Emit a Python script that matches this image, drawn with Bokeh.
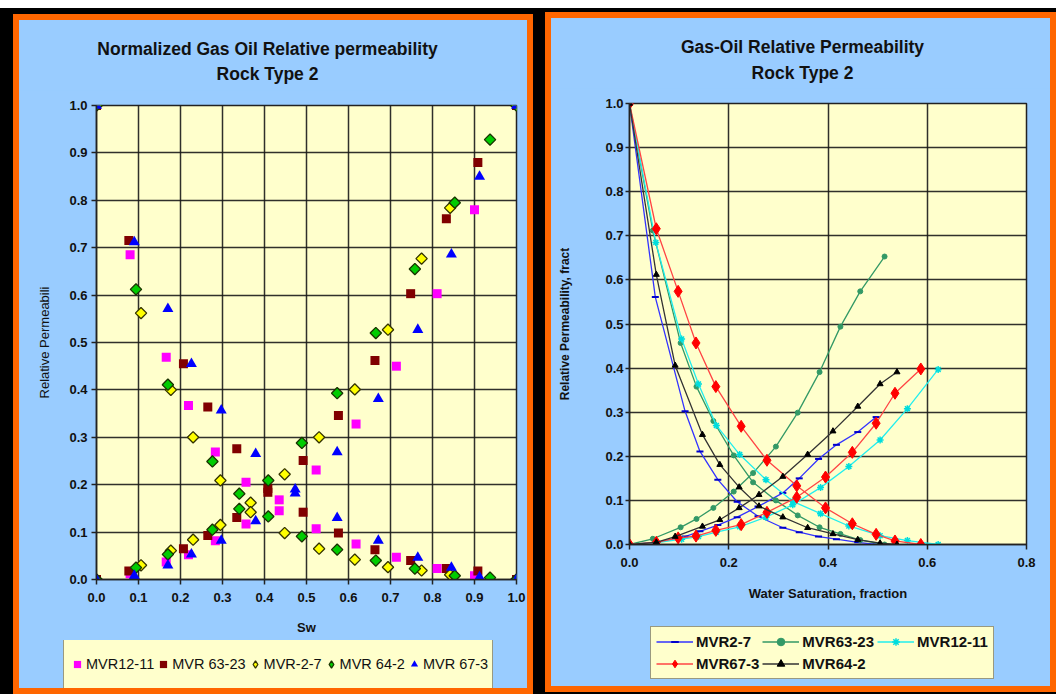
from bokeh.plotting import figure
from bokeh.models import Range1d, Legend, LegendItem, Label, FixedTicker, PrintfTickFormatter
from bokeh.layouts import row, column
from bokeh.embed import file_html
from bokeh.resources import INLINE

FONT = "Liberation Sans"
BLUE_BG = "#99CCFF"
PLOT_BG = "#FFFFCC"
ORANGE = "#FF6600"

# ---------------- Left chart data (normalized) ----------------
left_title = ["Normalized Gas Oil Relative permeability", "Rock Type 2"]
left_names = ["MVR12-11", "MVR 63-23", "MVR-2-7", "MVR 64-2", "MVR 67-3"]
sw_12_11 = [0.0, 0.080, 0.166, 0.219, 0.283, 0.356, 0.435, 0.523, 0.618, 0.714, 0.811, 0.900, 1.0]
kro_12_11 = [1.0, 0.685, 0.469, 0.367, 0.269, 0.205, 0.168, 0.107, 0.075, 0.047, 0.023, 0.008, 0.0]
krg_12_11 = [0.0, 0.012, 0.037, 0.052, 0.082, 0.117, 0.145, 0.231, 0.328, 0.450, 0.603, 0.780, 1.0]

sw_63_23 = [0.0, 0.077, 0.207, 0.265, 0.334, 0.408, 0.492, 0.576, 0.663, 0.748, 0.833, 0.908, 1.0]
kro_63_23 = [1.0, 0.715, 0.455, 0.364, 0.276, 0.184, 0.142, 0.098, 0.063, 0.040, 0.023, 0.018, 0.0]
krg_63_23 = [0.0, 0.018, 0.065, 0.093, 0.131, 0.192, 0.251, 0.346, 0.462, 0.603, 0.761, 0.880, 1.0]

sw_2_7 = [0.0, 0.106, 0.177, 0.230, 0.295, 0.367, 0.448, 0.530, 0.615, 0.694, 0.774, 0.842, 1.0]
kro_2_7 = [1.0, 0.562, 0.400, 0.300, 0.209, 0.162, 0.098, 0.065, 0.042, 0.026, 0.019, 0.010, 0.0]
krg_2_7 = [0.0, 0.030, 0.061, 0.084, 0.115, 0.142, 0.222, 0.300, 0.401, 0.527, 0.677, 0.784, 1.0]

sw_64_2 = [0.0, 0.094, 0.170, 0.276, 0.340, 0.409, 0.489, 0.573, 0.665, 0.758, 0.853, 0.937, 1.0]
kro_64_2 = [1.0, 0.612, 0.411, 0.249, 0.181, 0.133, 0.091, 0.063, 0.040, 0.023, 0.008, 0.004, 0.0]
krg_64_2 = [0.0, 0.025, 0.053, 0.105, 0.149, 0.209, 0.288, 0.393, 0.520, 0.655, 0.795, 0.928, 1.0]

sw_67_3 = [0.0, 0.090, 0.170, 0.226, 0.297, 0.379, 0.473, 0.573, 0.671, 0.765, 0.845, 0.912, 1.0]
kro_67_3 = [1.0, 0.712, 0.571, 0.455, 0.357, 0.265, 0.190, 0.130, 0.082, 0.046, 0.025, 0.005, 0.0]
krg_67_3 = [0.0, 0.008, 0.030, 0.053, 0.082, 0.123, 0.182, 0.269, 0.381, 0.527, 0.686, 0.850, 1.0]

left_ticks = [0.0, 0.1, 0.2, 0.3, 0.4, 0.5, 0.6, 0.7, 0.8, 0.9, 1.0]

# ---------------- Right chart data ----------------
right_title = ["Gas-Oil Relative Permeability", "Rock Type 2"]
right_names = ["MVR2-7", "MVR63-23", "MVR12-11", "MVR67-3", "MVR64-2"]
r_sw_2_7 = [0.0, 0.052, 0.112, 0.142, 0.178, 0.217, 0.259, 0.309, 0.342, 0.381, 0.417, 0.460, 0.497]
r_kro_2_7 = [1.0, 0.561, 0.302, 0.211, 0.147, 0.097, 0.064, 0.038, 0.028, 0.018, 0.012, 0.005, 0.0]
r_krg_2_7 = [0.0, 0.004, 0.018, 0.030, 0.044, 0.062, 0.086, 0.117, 0.150, 0.194, 0.226, 0.255, 0.289]

r_sw_63_23 = [0.0, 0.047, 0.103, 0.135, 0.169, 0.210, 0.249, 0.295, 0.339, 0.383, 0.425, 0.465, 0.514]
r_kro_63_23 = [1.0, 0.712, 0.457, 0.358, 0.280, 0.202, 0.141, 0.100, 0.066, 0.039, 0.024, 0.010, 0.0]
r_krg_63_23 = [0.0, 0.013, 0.039, 0.058, 0.083, 0.120, 0.162, 0.222, 0.299, 0.391, 0.494, 0.574, 0.653]

r_sw_12_11 = [0.0, 0.053, 0.105, 0.139, 0.175, 0.222, 0.275, 0.329, 0.385, 0.442, 0.505, 0.560, 0.622]
r_kro_12_11 = [1.0, 0.685, 0.466, 0.364, 0.270, 0.204, 0.147, 0.098, 0.070, 0.042, 0.020, 0.009, 0.0]
r_krg_12_11 = [0.0, 0.004, 0.012, 0.018, 0.028, 0.040, 0.062, 0.090, 0.129, 0.177, 0.237, 0.308, 0.397]

r_sw_67_3 = [0.0, 0.054, 0.098, 0.134, 0.174, 0.225, 0.277, 0.337, 0.395, 0.449, 0.497, 0.535, 0.587]
r_kro_67_3 = [1.0, 0.716, 0.574, 0.457, 0.358, 0.268, 0.191, 0.133, 0.083, 0.047, 0.023, 0.008, 0.0]
r_krg_67_3 = [0.0, 0.005, 0.015, 0.019, 0.032, 0.045, 0.073, 0.107, 0.153, 0.209, 0.275, 0.343, 0.398]

r_sw_64_2 = [0.0, 0.054, 0.092, 0.147, 0.182, 0.221, 0.261, 0.309, 0.359, 0.410, 0.460, 0.505, 0.539]
r_kro_64_2 = [1.0, 0.612, 0.406, 0.249, 0.181, 0.130, 0.087, 0.062, 0.038, 0.024, 0.011, 0.003, 0.0]
r_krg_64_2 = [0.0, 0.005, 0.018, 0.041, 0.056, 0.083, 0.113, 0.154, 0.204, 0.257, 0.313, 0.364, 0.391]

right_xticks = [0.0, 0.2, 0.4, 0.6, 0.8]
right_yticks = [0.0, 0.1, 0.2, 0.3, 0.4, 0.5, 0.6, 0.7, 0.8, 0.9, 1.0]


def blank_fig(w, h, xr=None, yr=None):
    f = figure(width=w, height=h,
               x_range=xr if xr is not None else Range1d(0, w),
               y_range=yr if yr is not None else Range1d(0, h),
               output_backend="svg", toolbar_location=None,
               x_axis_type=None, y_axis_type=None, frame_align=False,
               min_border=0, min_border_left=0, min_border_right=0,
               min_border_top=0, min_border_bottom=0)
    f.background_fill_color = BLUE_BG
    f.border_fill_color = BLUE_BG
    f.outline_line_color = None
    f.xgrid.visible = False
    f.ygrid.visible = False
    return f


def header(w, h, lines, xc, ys):
    f = blank_fig(w, h)
    for txt, y in zip(lines, ys):
        f.add_layout(Label(x=xc, y=y, text=txt, text_align="center", text_baseline="middle",
                           text_font=FONT, text_font_size="17.5px", text_font_style="bold",
                           text_color="#111111"))
    return f


def style(p, xticks, yticks, ylab_standoff, xlab_standoff):
    p.background_fill_color = PLOT_BG
    p.border_fill_color = BLUE_BG
    p.outline_line_color = "#222222"
    p.outline_line_width = 1.5
    for ax, ticks in ((p.xaxis, xticks), (p.yaxis, yticks)):
        ax.ticker = FixedTicker(ticks=ticks)
        ax.formatter = PrintfTickFormatter(format="%.1f")
        ax.major_label_text_font = FONT
        ax.major_label_text_font_style = "bold"
        ax.major_label_text_font_size = "13px"
        ax.major_label_text_color = "#111111"
        ax.axis_line_color = "#222222"
        ax.axis_line_width = 1.5
        ax.major_tick_line_color = "#222222"
        ax.major_tick_line_width = 1.5
        ax.major_tick_in = 0
        ax.major_tick_out = 5
        ax.minor_tick_line_color = None
        ax.axis_label_text_font = FONT
        ax.axis_label_text_color = "#111111"
        ax.axis_label_text_font_size = "13px"
    p.xaxis.major_label_standoff = 8
    p.yaxis.major_label_standoff = 4
    p.yaxis.axis_label_standoff = ylab_standoff
    p.xaxis.axis_label_standoff = xlab_standoff
    p.xgrid.ticker = FixedTicker(ticks=xticks)
    p.ygrid.ticker = FixedTicker(ticks=yticks)
    for g in (p.xgrid, p.ygrid):
        g.grid_line_color = "#1a1a1a"
        g.grid_line_width = 1.5
        g.grid_line_alpha = 0.9


# ================= LEFT PANEL =================
h1 = header(508, 70, left_title, 248, [42, 17])

p1 = figure(width=508, height=550, x_range=Range1d(0, 1), y_range=Range1d(0, 1),
            output_backend="svg", toolbar_location=None, frame_align=False,
            min_border_left=77, min_border_right=11, min_border_top=15, min_border_bottom=61)
style(p1, left_ticks, left_ticks, 14, 15)
p1.xaxis.axis_label = "Sw"
p1.xaxis.axis_label_text_font_style = "bold"
p1.yaxis.axis_label = "Relative Permeabili"
p1.yaxis.axis_label_text_font_style = "normal"

diamond_yellow = dict(fill_color="#FFFF00", line_color="#333300", line_width=1.3)
diamond_green = dict(fill_color="#00CC00", line_color="#1a3300", line_width=1.3)
left_series = [
    (sw_12_11, kro_12_11, krg_12_11, dict(marker="square", size=9, fill_color="#FF00FF", line_color=None), None),
    (sw_63_23, kro_63_23, krg_63_23, dict(marker="square", size=9, fill_color="#800000", line_color=None), None),
    (sw_2_7, kro_2_7, krg_2_7, dict(marker="square", angle=0.785398, size=8, **diamond_yellow),
     dict(marker="diamond", **diamond_yellow)),
    (sw_64_2, kro_64_2, krg_64_2, dict(marker="square", angle=0.785398, size=8, **diamond_green),
     dict(marker="diamond", **diamond_green)),
    (sw_67_3, kro_67_3, krg_67_3, dict(marker="triangle", size=11, fill_color="#0000FF", line_color=None), None),
]
# legend strip: its ranges lie outside the data, so the swatch renderers stay hidden
l1 = blank_fig(508, 48, Range1d(5, 6), Range1d(5, 6))
items1 = []
for name, (sw, kro, krg, kw, lkw) in zip(left_names, left_series):
    p1.scatter(sw, kro, **kw)
    p1.scatter(sw, krg, **kw)
    proxy = l1.scatter(sw, kro, **(lkw if lkw is not None else kw))
    items1.append(LegendItem(label=name, renderers=[proxy]))

leg1 = Legend(items=items1, orientation="horizontal", location=(44, -1),
              background_fill_color=PLOT_BG, background_fill_alpha=1.0,
              border_line_color="#333333", border_line_width=1.5,
              padding=4, spacing=0, glyph_width=18, glyph_height=40, label_standoff=0,
              label_text_font=FONT, label_text_font_size="14.5px", label_text_color="#111111",
              margin=0)
l1.add_layout(leg1, "center")

# ================= RIGHT PANEL =================
h2 = header(499, 70, right_title, 251, [42, 16])

p2 = figure(width=499, height=530, x_range=Range1d(0, 0.8), y_range=Range1d(0, 1),
            output_backend="svg", toolbar_location=None, frame_align=False,
            min_border_left=78, min_border_right=24, min_border_top=15, min_border_bottom=74)
style(p2, right_xticks, right_yticks, 30, 16)
p2.yaxis.major_label_standoff = 2
p2.yaxis.major_tick_out = 4
p2.xaxis.axis_label = "Water Saturation, fraction"
p2.xaxis.axis_label_text_font_style = "bold"
p2.yaxis.axis_label = "Relative Permeability, fract"
p2.yaxis.axis_label_text_font_style = "bold"
p2.yaxis.axis_label_text_font_size = "12px"

right_series = [
    ("MVR2-7", r_sw_2_7, r_kro_2_7, r_krg_2_7, "#3333FF", dict(marker="dash", size=7, line_color="#0000CC", line_width=2)),
    ("MVR63-23", r_sw_63_23, r_kro_63_23, r_krg_63_23, "#339966", dict(marker="circle", size=5, fill_color="#339966", line_color="#339966")),
    ("MVR12-11", r_sw_12_11, r_kro_12_11, r_krg_12_11, "#22EEEE", dict(marker="asterisk", size=7, line_color="#00DDDD", line_width=1.5)),
    ("MVR67-3", r_sw_67_3, r_kro_67_3, r_krg_67_3, "#FF4444", dict(marker="diamond", size=12, fill_color="#FF0000", line_color="#FF0000")),
    ("MVR64-2", r_sw_64_2, r_kro_64_2, r_krg_64_2, "#333333", dict(marker="triangle", size=6, fill_color="#000000", line_color="#000000")),
]
l2 = blank_fig(499, 68, Range1d(5, 6), Range1d(5, 6))
items2 = {}
for name, sw, kro, krg, col, kw in right_series:
    for yv in (kro, krg):
        p2.line(sw, yv, line_color=col, line_width=1.3)
        p2.scatter(sw, yv, **kw)
    pl = l2.line(sw, kro, line_color=col, line_width=1.3)
    ps = l2.scatter(sw, kro, **kw)
    items2[name] = LegendItem(label=name, renderers=[pl, ps])

leg2 = Legend(items=[items2[n] for n in right_names], orientation="horizontal", ncols=3,
              location=(99, 7),
              background_fill_color=PLOT_BG, background_fill_alpha=1.0,
              border_line_color="#333333", border_line_width=1.5,
              padding=5, spacing=3, glyph_width=37, glyph_height=19, label_standoff=3,
              label_text_font=FONT, label_text_font_size="15px", label_text_font_style="bold",
              label_text_color="#111111", margin=0)
l2.add_layout(leg2, "center")

# ---------------- Frames / layout ----------------
inner1 = column(h1, p1, l1, spacing=0, styles={"background-color": BLUE_BG}, margin=(6, 6, 6, 6))
inner2 = column(h2, p2, l2, spacing=0, styles={"background-color": BLUE_BG}, margin=(6, 6, 6, 6))
c1 = column(inner1, styles={"background-color": ORANGE}, margin=(6, 0, 0, 13))
c2 = column(inner2, styles={"background-color": ORANGE}, margin=(4, 0, 0, 12))
lay = row(c1, c2, styles={"background-color": "#000000"}, margin=(8, 0, 0, 0))

open("out.html", "w").write(file_html(lay, INLINE))
